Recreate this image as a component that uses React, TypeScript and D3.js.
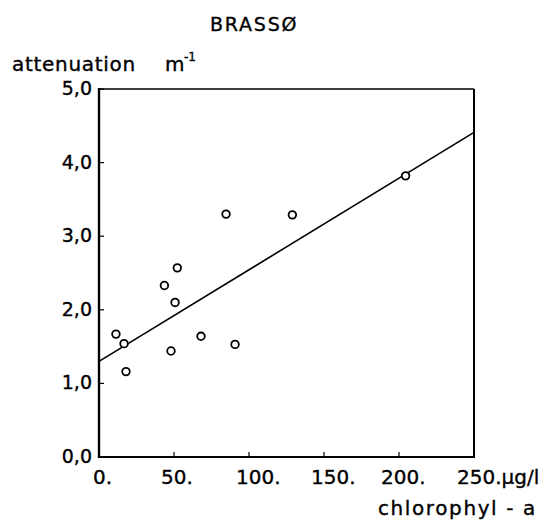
import React from "react";
import * as d3 from "d3";

const chlorophyll = [11.3, 16.7, 18, 43.6, 48, 50.7, 52.2, 68, 84.7, 90.7, 128.9, 204.4];
const attenuation = [1.67, 1.54, 1.16, 2.33, 1.44, 2.1, 2.57, 1.64, 3.3, 1.53, 3.29, 3.82];
const fitX = [0, 250];
const fitY = [1.3, 4.41];
const xTicks = [0, 50, 100, 150, 200, 250];
const xTickLabels = ["0.", "50.", "100.", "150.", "200.", "250."];
const yTicks = [0, 1, 2, 3, 4, 5];
const yTickLabels = ["0,0", "1,0", "2,0", "3,0", "4,0", "5,0"];

const W = 559;
const H = 524;
const left = 99;
const right = 474;
const top = 89;
const bottom = 457;
const FONT = "'DejaVu Sans', sans-serif";

export default function App() {
  const x = d3.scaleLinear().domain([0, 250]).range([left, right]);
  const y = d3.scaleLinear().domain([0, 5]).range([bottom, top]);
  const line = d3
    .line<number>()
    .x((d) => x(d))
    .y((_, i) => y(fitY[i]));
  const ts = { fill: "#000", stroke: "#000", strokeWidth: 0.35 };
  return (
    <svg
      width={W}
      height={H}
      style={{ position: "absolute", left: 0, top: 0, background: "#fff" }}
      fontFamily={FONT}
    >
      <rect x={0} y={0} width={W} height={H} fill="#fff" />
      <text x={210} y={31} fontSize={19} letterSpacing={1.8} {...ts}>
        BRASSØ
      </text>
      <text x={12} y={71} fontSize={20} letterSpacing={0.7} {...ts}>
        attenuation
      </text>
      <text x={165} y={71} fontSize={20} {...ts}>
        m
      </text>
      <text x={184} y={61} fontSize={12} {...ts}>
        -1
      </text>
      <line x1={left} x2={right} y1={top} y2={top} stroke="#000" strokeWidth={1.6} />
      <line x1={right} x2={right} y1={top} y2={bottom} stroke="#000" strokeWidth={2} />
      <line x1={left} x2={left} y1={top - 1} y2={bottom + 1} stroke="#000" strokeWidth={2.4} />
      <line x1={left - 1} x2={right + 1} y1={bottom} y2={bottom} stroke="#000" strokeWidth={2.2} />
      {yTicks.map((t, i) => (
        <g key={"y" + t}>
          <line x1={left} x2={left + 5} y1={y(t)} y2={y(t)} stroke="#000" strokeWidth={1.2} />
          <text x={92} y={y(t) + 6} textAnchor="end" fontSize={19} {...ts}>
            {yTickLabels[i]}
          </text>
        </g>
      ))}
      {xTicks.map((t, i) => (
        <g key={"x" + t}>
          <line x1={x(t)} x2={x(t)} y1={bottom} y2={bottom - 5} stroke="#000" strokeWidth={1.2} />
          <text
            x={x(t) - (i === 0 ? 6 : i === 5 ? 17 : i === 4 ? 18 : 13)}
            y={484}
            textAnchor="start"
            fontSize={20}
            {...ts}
          >
            {xTickLabels[i]}
            {i === 5 ? "\u00b5g/l" : ""}
          </text>
        </g>
      ))}
      <text x={378} y={515} fontSize={20} letterSpacing={1.6} {...ts}>
        chlorophyl - a
      </text>
      <path d={line(fitX) || ""} fill="none" stroke="#000" strokeWidth={1.6} />
      {chlorophyll.map((c, i) => (
        <circle key={i} cx={x(c)} cy={y(attenuation[i])} r={3.8} fill="#fff" stroke="#000" strokeWidth={1.8} />
      ))}
    </svg>
  );
}
